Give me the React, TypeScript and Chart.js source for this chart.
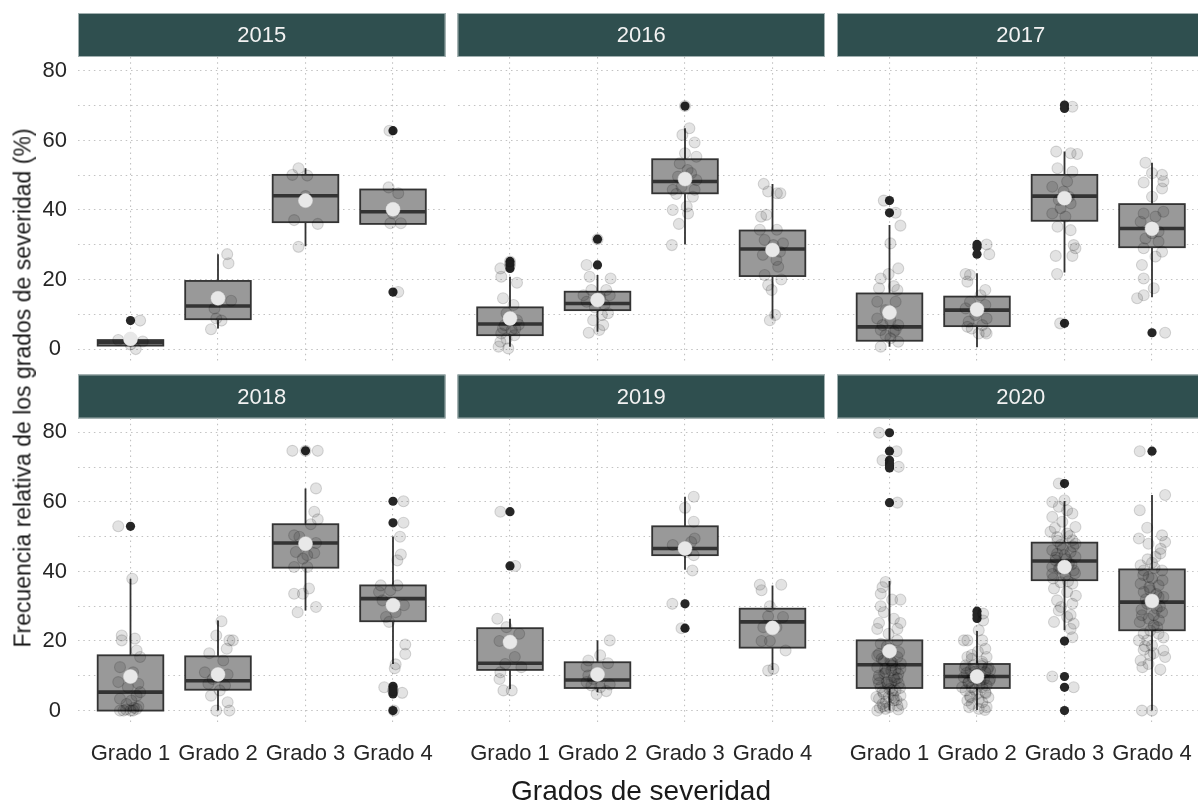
import React, { useEffect, useRef } from 'react';
import { Chart, registerables } from 'chart.js';

Chart.register(...registerables);

const FONT = '"Liberation Sans", Arial, Helvetica, sans-serif';
Chart.defaults.font.family = FONT;

const years = ['2015', '2016', '2017', '2018', '2019', '2020'];
const grades = ['Grado 1', 'Grado 2', 'Grado 3', 'Grado 4'];
const yTickLabels = [0, 20, 40, 60, 80];
const yGridValues = [0, 10, 20, 30, 40, 50, 60, 70, 80];

// box statistics per grade: [lower whisker, Q1, median, Q3, upper whisker]
const box2015 = [[0.5, 1.0, 1.9, 2.6, 2.8], [5.9, 8.6, 12.4, 19.6, 27.3], [29.6, 36.5, 44.1, 50.1, 52.0], [36.0, 36.0, 39.5, 45.9, 46.2]];
const box2016 = [[0.7, 4.0, 7.2, 12.0, 20.8], [5.0, 11.2, 13.1, 16.5, 21.3], [30.1, 44.8, 48.2, 54.6, 63.5], [8.8, 21.0, 28.8, 34.1, 47.5]];
const box2017 = [[0.7, 2.4, 6.4, 16.0, 35.7], [0.5, 6.6, 11.2, 15.1, 21.8], [22.0, 36.9, 44.0, 50.1, 56.8], [14.9, 29.3, 34.7, 41.7, 53.6]];
const box2018 = [[0, 0, 5.3, 15.9, 37.9], [0, 6.0, 8.6, 15.6, 25.9], [28.8, 41.1, 48.2, 53.6, 63.9], [13.4, 25.7, 32.2, 36.0, 50.1]];
const box2019 = [[6.2, 11.7, 13.6, 23.7, 26.4], [5.3, 6.5, 8.8, 13.9, 20.2], [40.5, 44.7, 46.6, 53.0, 61.5], [11.7, 18.1, 25.5, 29.3, 36.0]];
const box2020 = [[0, 6.5, 13.2, 20.2, 37.3], [0.2, 6.5, 9.8, 13.4, 22.9], [23.1, 37.5, 43.0, 48.3, 60.3], [0, 23.1, 31.2, 40.6, 62.0]];

// outliers per grade
const out2015 = [[8.2], [], [], [62.8, 16.4]];
const out2016 = [[25.2, 24.2, 23.2], [31.6, 24.2], [69.9], []];
const out2017 = [[42.7, 39.2], [30.1, 29.3, 27.3], [70.2, 69.2, 7.4], [4.7]];
const out2018 = [[53.0], [], [74.7], [60.2, 54.0, 7.0, 6.2, 5.4, 4.8, 0]];
const out2019 = [[57.2, 41.6], [], [30.7, 23.7], []];
const out2020 = [[79.9, 74.6, 72.0, 71.2, 70.4, 69.8, 59.8], [28.6, 27.5, 26.5], [65.3, 20.0, 9.8, 6.7, 0], [74.6]];

// means per grade
const mean2015 = [2.9, 14.6, 42.7, 40.2];
const mean2016 = [8.8, 14.1, 48.9, 28.5];
const mean2017 = [10.5, 11.4, 43.4, 34.6];
const mean2018 = [9.8, 10.4, 48.0, 30.3];
const mean2019 = [19.7, 10.4, 46.6, 23.8];
const mean2020 = [17.1, 9.8, 41.3, 31.5];

// jittered observations per grade: [horizontal jitter (category units), value]
const pts2015 = [
  [[0.11, 8.2], [-0.14, 2.6], [0.14, 2.2], [0.06, 0], [0.0, 1.3]],
  [[0.105, 27.3], [0.12, 24.7], [0.15, 13.9], [-0.04, 11.7], [-0.02, 8.8], [0.04, 8.2], [-0.08, 5.7]],
  [[-0.08, 52.0], [-0.15, 50.1], [0.02, 49.9], [-0.13, 37.1], [0.14, 36.0], [-0.08, 29.4], [0.0, 44.0]],
  [[-0.04, 62.8], [-0.05, 46.5], [0.06, 44.8], [-0.03, 36.2], [0.09, 36.2], [0.0, 39.0], [0.06, 16.4]],
];
const pts2016 = [
  [[-0.11, 23.2], [-0.1, 20.8], [0.08, 19.1], [-0.08, 14.6], [0.04, 12.7], [-0.04, 10.3], [0.08, 8.3], [-0.06, 6.9], [0.02, 5.5], [-0.1, 4.5], [-0.13, 0.7], [-0.02, 0.2], [-0.11, 2.1], [0.06, 5.9], [-0.02, 8.8], [0.0, 25.2], [0.0, 24.2], [0.1, 7.0], [-0.08, 6.0], [0.05, 4.0], [-0.04, 3.0]],
  [[-0.125, 24.2], [-0.09, 20.8], [0.15, 20.3], [-0.07, 17.0], [0.1, 17.0], [-0.16, 15.5], [0.14, 15.5], [0.0, 14.1], [-0.125, 13.6], [0.08, 12.7], [0.12, 10.3], [0.05, 9.8], [-0.05, 8.3], [0.065, 6.9], [-0.1, 4.7], [0.02, 5.5], [0.0, 31.6], [-0.03, 12.0], [0.03, 15.0]],
  [[0.05, 63.5], [-0.03, 61.6], [0.11, 59.4], [0.0, 56.3], [0.13, 55.3], [-0.06, 53.4], [0.03, 51.5], [0.07, 50.6], [-0.08, 49.6], [0.13, 48.6], [-0.04, 46.7], [0.11, 45.8], [-0.14, 45.8], [0.09, 43.8], [0.02, 41.0], [-0.14, 40.0], [0.035, 39.0], [-0.07, 36.0], [-0.15, 29.9], [0.0, 69.9], [-0.1, 44.6]],
  [[-0.1, 47.5], [-0.05, 45.3], [0.05, 44.8], [0.09, 44.8], [-0.13, 38.1], [-0.07, 38.6], [0.05, 34.3], [-0.145, 34.3], [-0.09, 31.4], [0.12, 30.4], [0.01, 29.9], [0.085, 28.0], [-0.11, 27.1], [0.045, 25.6], [0.065, 23.7], [-0.09, 21.3], [0.1, 20.0], [-0.05, 18.4], [-0.01, 17.0], [0.03, 9.8], [-0.03, 8.3]],
];
const pts2017 = [
  [[-0.065, 42.7], [0.07, 39.2], [0.125, 35.5], [0.01, 30.4], [0.1, 23.2], [-0.1, 20.3], [-0.01, 21.6], [0.05, 18.1], [-0.12, 17.5], [0.09, 17.0], [0.07, 13.6], [-0.14, 13.6], [-0.045, 11.2], [-0.14, 8.8], [0.01, 8.3], [0.1, 6.9], [-0.1, 5.5], [0.05, 5.0], [-0.045, 4.0], [0.1, 2.1], [-0.1, 0.7], [0.01, 3.1], [-0.08, 6.9], [0.07, 5.5]],
  [[0.11, 30.1], [0.14, 27.3], [-0.13, 21.6], [-0.11, 19.4], [-0.08, 21.3], [0.095, 17.0], [0.04, 15.5], [-0.08, 13.6], [0.095, 12.7], [-0.13, 11.7], [-0.02, 9.8], [0.11, 8.8], [-0.095, 7.9], [0.06, 6.9], [-0.06, 5.9], [0.11, 4.5], [0.02, 4.5], [-0.11, 6.4], [0.095, 5.0]],
  [[-0.095, 56.8], [0.07, 56.3], [0.145, 56.1], [-0.08, 52.0], [0.09, 51.0], [0.03, 48.2], [-0.14, 46.7], [-0.01, 45.3], [-0.065, 42.9], [0.07, 41.9], [-0.14, 39.0], [0.01, 38.1], [-0.08, 35.2], [0.07, 34.2], [0.105, 29.9], [0.125, 29.0], [-0.1, 26.8], [0.09, 26.8], [-0.085, 21.6], [0.09, 69.7], [-0.05, 7.4], [-0.045, 40.5], [0.05, 43.8]],
  [[-0.075, 53.6], [0.0, 50.6], [0.115, 50.1], [0.13, 48.2], [-0.095, 47.9], [0.115, 46.2], [0.0, 43.8], [-0.095, 39.0], [0.13, 39.5], [0.04, 38.1], [-0.13, 36.6], [0.0, 33.3], [-0.075, 31.8], [0.075, 30.9], [-0.095, 29.0], [0.115, 28.0], [0.04, 26.6], [-0.115, 24.2], [-0.095, 20.3], [0.02, 17.5], [-0.095, 15.5], [-0.17, 14.6], [0.15, 4.7], [0.075, 33.8], [0.0, 35.2]],
];
const pts2018 = [
  [[-0.14, 53.0], [0.02, 37.9], [-0.1, 21.6], [-0.1, 20.2], [0.05, 20.7], [0.07, 17.3], [0.11, 15.4], [-0.12, 12.5], [0.03, 11.0], [-0.14, 8.2], [0.09, 7.7], [-0.03, 6.7], [0.11, 5.3], [-0.12, 3.4], [0.01, 2.9], [0.07, 4.3], [-0.12, 0], [0.03, 0], [0.07, 0.5], [-0.045, 1.9], [0.0, 0], [-0.05, 0.3], [0.04, 0.8], [-0.08, 0], [0.09, 1.2]],
  [[0.04, 25.7], [-0.02, 21.6], [0.13, 20.2], [0.1, 17.8], [-0.1, 16.5], [0.06, 14.4], [-0.15, 11.0], [0.11, 10.4], [-0.06, 9.1], [0.08, 7.2], [-0.11, 7.7], [0.02, 5.8], [-0.08, 4.3], [0.11, 2.4], [-0.02, 0], [0.13, 0], [0.17, 20.2]],
  [[-0.15, 74.7], [0.14, 74.7], [0.12, 63.9], [0.1, 57.2], [0.14, 55.0], [0.06, 53.6], [-0.13, 50.4], [-0.07, 50.0], [0.12, 48.2], [-0.11, 45.6], [0.02, 44.7], [-0.03, 43.7], [0.1, 45.3], [-0.13, 41.3], [0.02, 41.3], [-0.13, 33.6], [-0.03, 33.6], [0.04, 35.1], [0.12, 29.8], [-0.09, 28.3], [0.0, 74.7]],
  [[0.12, 60.2], [0.12, 54.0], [0.08, 50.0], [0.09, 44.9], [0.05, 43.2], [-0.14, 36.0], [0.05, 36.0], [-0.16, 34.1], [-0.03, 34.6], [-0.12, 31.7], [0.125, 30.3], [0.03, 28.3], [-0.08, 26.9], [-0.045, 25.5], [0.14, 19.0], [0.14, 16.3], [0.03, 13.3], [0.02, 12.2], [-0.1, 6.7], [0.105, 5.1], [0.01, 0], [0.0, 5.8]],
];
const pts2019 = [
  [[-0.11, 57.2], [0.06, 41.6], [-0.145, 26.4], [-0.04, 24.0], [0.105, 22.1], [-0.12, 20.0], [0.055, 15.4], [-0.055, 13.4], [0.13, 12.5], [-0.11, 11.0], [-0.12, 9.1], [-0.075, 5.8], [0.02, 5.8]],
  [[0.14, 20.2], [0.03, 15.9], [-0.105, 14.4], [0.12, 13.6], [-0.125, 12.7], [-0.105, 10.1], [0.14, 7.5], [-0.125, 8.2], [-0.07, 7.2], [-0.01, 4.8], [0.1, 5.6], [0.03, 6.7], [-0.05, 9.1]],
  [[0.1, 61.5], [0.0, 58.3], [0.1, 54.3], [0.11, 49.5], [0.07, 48.5], [-0.14, 47.6], [0.1, 44.7], [0.085, 40.3], [-0.145, 30.7], [-0.04, 23.7], [0.015, 45.6]],
  [[-0.145, 36.2], [-0.125, 34.6], [0.1, 36.2], [-0.03, 30.0], [-0.05, 27.1], [0.12, 26.9], [-0.105, 24.0], [0.045, 24.0], [-0.125, 20.0], [-0.03, 20.0], [0.15, 17.3], [-0.05, 11.5], [0.01, 12.0]],
];
const pts2020 = [
  [[-0.12, 79.9], [0.08, 74.6], [-0.08, 72.0], [0.105, 70.1], [0.09, 59.8], [-0.045, 37.0], [-0.08, 35.5], [-0.1, 33.6], [0.03, 31.9], [0.125, 31.9], [-0.1, 30.0], [-0.065, 28.3], [0.05, 26.4], [0.125, 25.2], [-0.12, 25.2], [-0.14, 23.5], [0.09, 23.5], [-0.01, 22.1], [0.09, 20.2], [-0.1, 19.2], [0.0, 17.8], [-0.12, 16.3], [0.09, 15.4], [-0.065, 14.4], [0.03, 13.0], [-0.14, 12.5], [0.125, 12.0], [-0.045, 11.0], [-0.12, 10.1], [0.05, 9.6], [-0.03, 8.2], [0.105, 7.7], [-0.1, 6.7], [0.03, 5.8], [-0.065, 4.8], [0.125, 4.3], [-0.12, 3.4], [0.05, 2.9], [-0.08, 1.9], [0.0, 1.0], [-0.14, 0], [0.09, 1.4], [-0.045, 0.5], [0.07, 5.8], [0.01, 14.4], [-0.05, 12.0], [0.02, 11.5], [0.1, 10.5], [-0.13, 9.0], [0.06, 8.8], [-0.02, 7.5], [0.12, 6.5], [-0.08, 5.5], [0.04, 4.5], [-0.15, 3.9], [0.08, 3.0], [-0.04, 2.5], [0.14, 1.8], [-0.11, 0.8], [0.03, 13.8], [-0.09, 14.9], [0.11, 16.8], [-0.03, 18.5], [0.07, 11.8], [-0.12, 7.9], [0.0, 6.2], [0.09, 9.3], [-0.06, 10.6], [0.13, 13.5], [-0.14, 15.8], [0.05, 3.6], [-0.07, 1.2], [0.1, 0.3], [-0.01, 4.0], [0.02, 8.0]],
  [[0.07, 27.9], [0.07, 25.9], [0.02, 23.1], [-0.15, 20.2], [-0.11, 20.2], [0.06, 20.2], [0.095, 17.8], [-0.11, 15.4], [0.11, 15.4], [-0.06, 14.9], [0.06, 13.4], [-0.13, 13.0], [0.13, 12.5], [-0.075, 11.5], [0.095, 11.0], [-0.02, 10.1], [-0.15, 9.6], [0.15, 9.1], [0.04, 8.6], [-0.095, 8.2], [0.11, 7.2], [-0.06, 6.7], [-0.13, 5.8], [0.095, 5.3], [0.0, 4.8], [-0.075, 3.8], [0.13, 3.8], [0.06, 2.4], [-0.06, 1.9], [0.11, 1.0], [0.02, 0.5], [-0.11, 2.9], [0.15, 11.5], [-0.04, 13.0], [0.06, 6.7], [-0.17, 6.7], [0.0, 10.5], [-0.05, 9.5], [0.08, 9.0], [-0.1, 8.0], [0.03, 7.5], [0.12, 11.8], [-0.14, 12.2], [0.05, 12.8], [-0.03, 6.0], [0.1, 5.0], [-0.08, 4.2], [0.02, 3.2], [-0.12, 10.8], [0.14, 8.5], [0.06, 14.0], [-0.06, 16.0], [0.01, 17.0], [-0.09, 1.0], [0.09, 0.2], [-0.02, 11.2]],
  [[-0.065, 65.3], [-0.14, 60.0], [0.0, 60.5], [-0.065, 58.6], [0.03, 57.6], [0.09, 56.7], [-0.14, 55.7], [-0.025, 54.3], [0.125, 52.8], [-0.16, 51.4], [0.03, 50.9], [-0.085, 49.9], [0.09, 49.0], [-0.045, 47.6], [-0.14, 46.1], [0.07, 45.6], [0.0, 44.7], [0.125, 44.2], [-0.1, 43.2], [0.05, 42.3], [-0.065, 40.8], [0.105, 40.3], [-0.14, 39.3], [0.01, 38.9], [-0.045, 36.9], [0.09, 36.5], [-0.12, 35.1], [0.03, 34.1], [-0.085, 31.7], [0.09, 30.7], [-0.065, 28.8], [0.03, 26.9], [-0.12, 25.5], [0.105, 25.0], [0.07, 23.5], [0.09, 21.1], [-0.14, 9.8], [0.105, 6.7], [0.01, 41.8], [-0.14, 41.3], [0.125, 48.0], [-0.085, 45.1], [0.02, 43.5], [-0.1, 44.0], [0.08, 42.0], [-0.05, 41.0], [0.12, 39.5], [-0.13, 38.0], [0.04, 37.2], [-0.02, 46.5], [0.1, 47.2], [-0.08, 48.8], [0.06, 50.2], [-0.11, 52.5], [0.13, 33.0], [-0.04, 29.8], [0.07, 27.5]],
  [[-0.14, 74.6], [0.15, 62.0], [-0.14, 57.6], [-0.055, 52.6], [-0.15, 49.5], [-0.04, 48.0], [0.115, 50.4], [0.15, 48.5], [0.095, 45.2], [-0.13, 41.8], [0.0, 42.5], [0.115, 40.3], [-0.04, 38.4], [-0.13, 36.5], [0.075, 36.0], [-0.095, 34.1], [0.13, 32.7], [-0.055, 30.7], [0.055, 29.3], [-0.115, 27.4], [0.115, 28.3], [-0.04, 26.4], [0.02, 24.5], [-0.15, 20.2], [-0.055, 20.2], [0.0, 18.7], [-0.095, 17.5], [0.13, 17.3], [-0.02, 15.9], [0.15, 15.4], [-0.13, 14.4], [-0.04, 13.4], [0.095, 11.8], [-0.115, 0], [0.0, 0], [0.04, 44.2], [-0.095, 40.3], [0.075, 32.7], [-0.02, 34.6], [0.02, 27.4], [-0.095, 22.1], [0.075, 22.1], [0.0, 31.0], [-0.07, 32.0], [0.09, 30.0], [-0.12, 29.0], [0.05, 33.5], [-0.03, 35.5], [0.12, 37.5], [-0.1, 39.0], [0.03, 41.0], [-0.05, 43.5], [0.1, 46.5], [-0.14, 25.5], [0.06, 24.0], [-0.02, 23.0], [0.13, 21.0], [-0.08, 18.5], [0.02, 16.5], [-0.11, 12.5], [0.08, 26.0], [0.0, 38.0]],
];

const panels = [
  { year: years[0], box: box2015, out: out2015, mean: mean2015, pts: pts2015 },
  { year: years[1], box: box2016, out: out2016, mean: mean2016, pts: pts2016 },
  { year: years[2], box: box2017, out: out2017, mean: mean2017, pts: pts2017 },
  { year: years[3], box: box2018, out: out2018, mean: mean2018, pts: pts2018 },
  { year: years[4], box: box2019, out: out2019, mean: mean2019, pts: pts2019 },
  { year: years[5], box: box2020, out: out2020, mean: mean2020, pts: pts2020 },
];

// layout (page pixels)
const CANVAS_W = 1212;
const CANVAS_H = 805;
const COL_LEFT = [78, 457.5, 837];
const PANEL_W = 367.5;
const ROW_TOP = [57, 418.5];
const PANEL_H = 306;
const STRIP_H = 44;
const STRIP_BG = '#2F4F4F';
const GRID_COLOR = '#c2c2c2';
const BOX_HALF = 0.375;

function makeBoxPlugin(box: number[][]) {
  return {
    id: 'boxes',
    beforeDatasetsDraw(chart: any) {
      const { ctx, scales } = chart;
      const xs = scales.x;
      const ys = scales.y;
      ctx.save();
      box.forEach((s, i) => {
        const c = i + 1;
        const cx = xs.getPixelForValue(c);
        const l = xs.getPixelForValue(c - BOX_HALF);
        const r = xs.getPixelForValue(c + BOX_HALF);
        const lo = ys.getPixelForValue(s[0]);
        const q1 = ys.getPixelForValue(s[1]);
        const med = ys.getPixelForValue(s[2]);
        const q3 = ys.getPixelForValue(s[3]);
        const hi = ys.getPixelForValue(s[4]);
        ctx.strokeStyle = '#333333';
        ctx.lineWidth = 1.8;
        ctx.beginPath();
        ctx.moveTo(cx, hi);
        ctx.lineTo(cx, q3);
        ctx.moveTo(cx, q1);
        ctx.lineTo(cx, lo);
        ctx.stroke();
        ctx.fillStyle = '#999999';
        ctx.fillRect(l, q3, r - l, q1 - q3);
        ctx.lineWidth = 1.8;
        ctx.strokeRect(l, q3, r - l, q1 - q3);
        ctx.lineWidth = 3.6;
        ctx.beginPath();
        ctx.moveTo(l, med);
        ctx.lineTo(r, med);
        ctx.stroke();
      });
      ctx.restore();
    },
  };
}

function makeStripPlugin(label: string) {
  return {
    id: 'strip',
    beforeDraw(chart: any) {
      const { ctx, chartArea } = chart;
      const top = chartArea.top - STRIP_H;
      ctx.save();
      ctx.fillStyle = STRIP_BG;
      ctx.fillRect(chartArea.left, top, chartArea.right - chartArea.left, STRIP_H);
      ctx.strokeStyle = 'rgba(190,200,200,0.8)';
      ctx.lineWidth = 1;
      ctx.strokeRect(chartArea.left + 0.5, top + 0.5, chartArea.right - chartArea.left - 1, STRIP_H - 1);
      ctx.fillStyle = '#f2f2f2';
      ctx.font = `22px ${FONT}`;
      ctx.textAlign = 'center';
      ctx.textBaseline = 'middle';
      ctx.fillText(label, (chartArea.left + chartArea.right) / 2, top + STRIP_H / 2 + 1);
      ctx.restore();
    },
  };
}

function makeConfig(p: any, idx: number): any {
  const col = idx % 3;
  const row = Math.floor(idx / 3);
  const left = COL_LEFT[col];
  const top = ROW_TOP[row];
  const showY = col === 0;
  const showX = row === 1;
  const yAxisW = showY ? left : 0;
  const xAxisH = showX ? CANVAS_H - (top + PANEL_H) : 0;

  const meanData = p.mean.map((m: number, i: number) => ({ x: i + 1, y: m }));
  const jitterData = p.pts.flatMap((g: number[][], i: number) => g.map(([dx, v]) => ({ x: i + 1 + dx, y: v })));
  const outData = p.out.flatMap((g: number[], i: number) => g.map((v) => ({ x: i + 1, y: v })));

  return {
    type: 'scatter',
    data: {
      datasets: [
        { label: 'Media', data: meanData, pointRadius: 7, backgroundColor: '#e8e8e8', borderColor: '#e0e0e0', borderWidth: 0.5, order: 0 },
        { label: 'Observaciones', data: jitterData, pointRadius: 5.5, backgroundColor: 'rgba(0,0,0,0.11)', borderColor: 'rgba(0,0,0,0.15)', borderWidth: 1.1, order: 1 },
        { label: 'Atípicos', data: outData, pointRadius: 4.6, backgroundColor: '#262626', borderColor: '#262626', borderWidth: 0, order: 2 },
      ],
    },
    options: {
      responsive: false,
      animation: false,
      events: [],
      layout: {
        padding: {
          left: left - yAxisW,
          top: top,
          right: CANVAS_W - (left + PANEL_W),
          bottom: CANVAS_H - (top + PANEL_H) - xAxisH,
        },
      },
      plugins: {
        legend: { display: false },
        tooltip: { enabled: false },
        title: { display: false },
      },
      scales: {
        x: {
          type: 'linear',
          min: 0.4,
          max: 4.6,
          afterBuildTicks: (s: any) => {
            s.ticks = grades.map((_, i) => ({ value: i + 1 }));
          },
          afterFit: (s: any) => {
            s.height = xAxisH;
            s.paddingLeft = 0;
            s.paddingRight = 0;
            s.paddingTop = 0;
            s.paddingBottom = 0;
          },
          grid: { color: GRID_COLOR, lineWidth: 1.1, drawTicks: false },
          border: { display: false, dash: [1.5, 3.8] },
          ticks: {
            display: showX,
            autoSkip: false,
            maxRotation: 0,
            minRotation: 0,
            padding: 16,
            color: '#262626',
            font: { size: 22, family: FONT },
            callback: (v: number) => grades[Math.round(v) - 1] ?? '',
          },
        },
        y: {
          type: 'linear',
          min: -4,
          max: 84,
          afterBuildTicks: (s: any) => {
            s.ticks = yGridValues.map((v) => ({ value: v }));
          },
          afterFit: (s: any) => {
            s.width = yAxisW;
            s.paddingLeft = 0;
            s.paddingRight = 0;
            s.paddingTop = 0;
            s.paddingBottom = 0;
          },
          grid: { color: GRID_COLOR, lineWidth: 1.1, drawTicks: false },
          border: { display: false, dash: [1.5, 3.8] },
          ticks: {
            display: showY,
            padding: 11,
            crossAlign: 'center',
            color: '#262626',
            font: { size: 22, family: FONT },
            callback: (v: number) => (yTickLabels.includes(v) ? String(v) : ''),
          },
        },
      },
    },
    plugins: [makeStripPlugin(p.year), makeBoxPlugin(p.box)],
  };
}

function Panel({ p, idx }: { p: any; idx: number }) {
  const ref = useRef<HTMLCanvasElement>(null);
  useEffect(() => {
    if (!ref.current) return;
    const chart = new Chart(ref.current, makeConfig(p, idx));
    return () => chart.destroy();
  }, [p, idx]);
  return (
    <canvas
      ref={ref}
      width={CANVAS_W}
      height={CANVAS_H}
      style={{ position: 'absolute', left: 0, top: 0, width: CANVAS_W, height: CANVAS_H, pointerEvents: 'none' }}
    />
  );
}

export default function App() {
  return (
    <div
      style={{
        position: 'absolute',
        left: 0,
        top: 0,
        width: 1198,
        height: 805,
        overflow: 'hidden',
        background: '#ffffff',
        fontFamily: FONT,
      }}
    >
      {panels.map((p, i) => (
        <Panel key={p.year} p={p} idx={i} />
      ))}
      <div
        style={{
          position: 'absolute',
          left: 23,
          top: 388,
          transform: 'translate(-50%, -50%) rotate(-90deg)',
          whiteSpace: 'nowrap',
          fontSize: 23,
          color: '#1a1a1a',
          lineHeight: 1,
        }}
      >
        Frecuencia relativa de los grados de severidad (%)
      </div>
      <div
        style={{
          position: 'absolute',
          left: 641,
          top: 791,
          transform: 'translate(-50%, -50%)',
          whiteSpace: 'nowrap',
          fontSize: 28,
          color: '#1a1a1a',
          lineHeight: 1,
        }}
      >
        Grados de severidad
      </div>
    </div>
  );
}
